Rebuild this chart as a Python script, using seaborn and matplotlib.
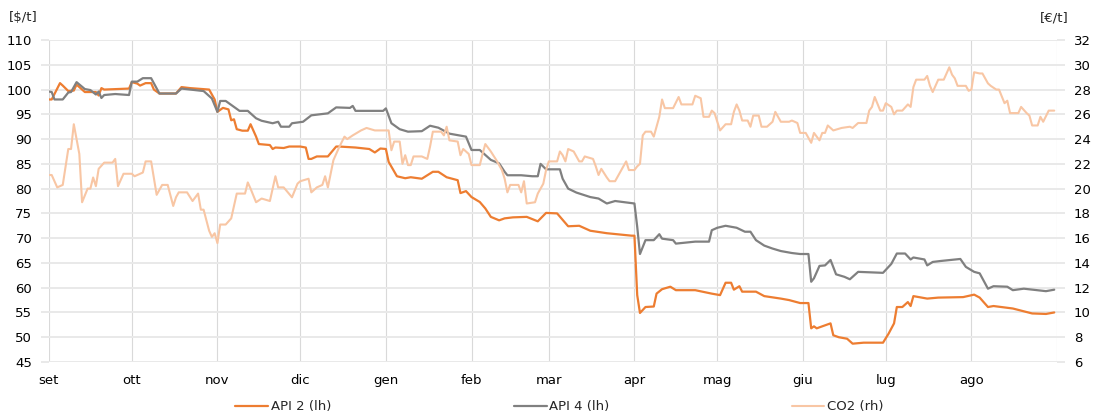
import matplotlib

matplotlib.use("Agg")

import matplotlib.pyplot as plt
import pandas as pd
import seaborn as sns

# ------------------------------------------------------------------
# DATA (day offsets from 1 Sep 2018)
# ------------------------------------------------------------------

start_date = "2018-09-01"
month_labels = ["set", "ott", "nov", "dic", "gen", "feb",
                "mar", "apr", "mag", "giu", "lug", "ago"]

api2_days = [0, 1, 4, 5, 7, 9, 10, 11, 13, 17, 18, 19, 20, 29, 30, 32, 33, 35,
             37, 38, 40, 46, 48, 51, 56, 58, 60, 61, 63, 65, 66, 67, 68, 70,
             72, 73, 75, 76, 80, 81, 82, 85, 87, 91, 93, 94, 95, 97, 101, 104,
             105, 111, 116, 118, 120, 122, 123, 126, 129, 131, 135, 139, 141,
             144, 148, 149, 151, 153, 156, 158, 160, 163, 165, 168, 173, 177,
             180, 184, 188, 192, 196, 202, 211, 212, 213, 214, 216, 219, 220,
             222, 225, 227, 234, 240, 243, 245, 247, 248, 250, 251, 256, 259,
             265, 268, 272, 275, 276, 277, 278, 280, 283, 284, 286, 289, 291,
             295, 302, 304, 306, 307, 309, 311, 312, 313, 318, 322, 331, 335,
             337, 340, 342, 349, 356, 361, 364]
api2_values = [98, 98, 101.3, 100.8, 99.7, 99.8, 101, 100.5, 99.5, 99.5, 98.8,
               100.3, 100, 100.2, 101.5, 101.2, 100.8, 101.3, 101.3, 100, 99.2,
               99.2, 100.5, 100.3, 100.1, 100, 98, 95.5, 96.3, 96, 93.8, 94, 92,
               91.7, 91.7, 93, 90.5, 89, 88.8, 88, 88.3, 88.2, 88.5, 88.5, 88.3,
               86, 86, 86.5, 86.5, 88.5, 88.5, 88.3, 88, 87.3, 88.1, 88, 85.4,
               82.5, 82.1, 82.3, 82, 83.4, 83.4, 82.3, 81.7, 79.1, 79.5, 78.3,
               77.3, 76, 74.3, 73.6, 74, 74.2, 74.3, 73.4, 75.1, 75, 72.4, 72.5,
               71.5, 71, 70.5, 70.5, 58.5, 54.9, 56.1, 56.2, 58.8, 59.7, 60.2,
               59.5, 59.5, 58.8, 58.5, 61, 61, 59.6, 60.3, 59.2, 59.2, 58.3,
               57.8, 57.5, 56.9, 56.9, 51.8, 52.2, 51.8, 52.2, 52.8, 50.4, 50,
               49.7, 48.7, 48.9, 48.9, 50.7, 52.8, 56.1, 56.1, 57.1, 56.3, 58.3,
               57.8, 58, 58.1, 58.6, 58, 56.1, 56.3, 55.8, 54.8, 54.7, 55]

api4_days = [0, 1, 2, 5, 7, 8, 10, 13, 15, 17, 18, 19, 20, 24, 29, 30, 32, 34,
             37, 40, 46, 48, 56, 59, 61, 62, 64, 67, 69, 72, 75, 77, 81, 83, 84,
             87, 88, 92, 95, 101, 104, 109, 110, 111, 121, 122, 124, 127, 130,
             135, 138, 141, 145, 151, 153, 156, 158, 160, 163, 165, 166, 171,
             175, 177, 178, 180, 185, 186, 188, 191, 196, 199, 202, 205, 212,
             213, 214, 216, 219, 221, 222, 226, 227, 234, 239, 240, 242, 245,
             249, 252, 254, 256, 259, 262, 265, 269, 272, 275, 276, 277, 279,
             281, 283, 285, 288, 290, 293, 302, 305, 307, 310, 312, 313, 317,
             318, 320, 323, 330, 332, 335, 337, 340, 342, 347, 349, 353, 361,
             364]
api4_values = [99.6, 99.5, 98, 98, 99.4, 99.5, 101.5, 100.1, 99.9, 99, 99.6,
               98.3, 98.9, 99.1, 98.9, 101.6, 101.6, 102.3, 102.3, 99.2, 99.2,
               100.2, 99.7, 98.2, 95.5, 97.7, 97.7, 96.5, 95.7, 95.7, 94.2, 93.7,
               93.2, 93.5, 92.5, 92.5, 93.2, 93.5, 94.8, 95.2, 96.4, 96.3, 96.7,
               95.7, 95.7, 96.2, 93.2, 92, 91.5, 91.6, 92.7, 92.3, 91.1, 90.5,
               87.8, 87.8, 86.8, 85.8, 85.1, 83.4, 82.7, 82.7, 82.5, 82.5, 85,
               83.9, 83.9, 82, 80, 79.2, 78.3, 78, 77, 77.5, 77, 72.3, 66.8,
               69.6, 69.6, 70.8, 69.9, 69.6, 68.9, 69.3, 69.3, 71.6, 72.1, 72.5,
               72.1, 71.3, 71.3, 69.6, 68.5, 67.9, 67.4, 67, 66.8, 66.8, 61.2,
               61.9, 64.4, 64.5, 65.6, 62.7, 62.2, 61.7, 63.2, 63, 64.8, 66.9,
               66.9, 65.7, 66.1, 65.7, 64.5, 65.2, 65.4, 65.8, 64.2, 63.2, 62.9,
               59.8, 60.3, 60.2, 59.5, 59.8, 59.3, 59.6]

co2_days = [0, 1, 3, 5, 7, 8, 9, 11, 12, 14, 15, 16, 17, 18, 20, 23, 24, 25,
            27, 30, 31, 34, 35, 37, 39, 41, 43, 45, 46, 47, 50, 52, 54, 55, 56,
            58, 59, 60, 61, 62, 64, 66, 68, 71, 72, 73, 75, 77, 80, 82, 83, 85,
            88, 90, 91, 94, 95, 97, 99, 100, 101, 103, 105, 107, 108, 110, 113,
            115, 118, 123, 124, 125, 127, 128, 129, 130, 131, 132, 135, 137,
            138, 139, 142, 143, 144, 145, 148, 149, 150, 152, 153, 156, 157,
            158, 160, 162, 164, 165, 166, 167, 170, 171, 172, 173, 176, 177,
            179, 180, 181, 184, 185, 186, 187, 188, 190, 192, 193, 194, 197,
            198, 199, 200, 202, 203, 205, 206, 209, 210, 212, 213, 214, 215,
            216, 218, 219, 221, 222, 223, 226, 228, 229, 233, 234, 236, 237,
            239, 240, 241, 243, 245, 247, 248, 249, 250, 251, 253, 254, 255,
            257, 258, 260, 262, 263, 265, 268, 269, 271, 272, 274, 276, 277,
            279, 280, 281, 282, 284, 287, 290, 291, 293, 296, 297, 298, 299,
            301, 302, 303, 305, 306, 307, 309, 311, 312, 313, 314, 317, 318,
            319, 320, 322, 324, 325, 326, 327, 328, 329, 332, 333, 334, 335,
            337, 338, 340, 341, 343, 344, 346, 347, 348, 351, 352, 354, 355,
            356, 358, 359, 360, 362, 364]
co2_values = [21.1, 21.1, 20.1, 20.3, 23.2, 23.2, 25.2, 22.8, 18.9, 20, 20,
              20.9, 20.2, 21.6, 22.1, 22.1, 22.4, 20.2, 21.2, 21.2, 21, 21.3,
              22.2, 22.2, 19.5, 20.3, 20.3, 18.6, 19.3, 19.7, 19.7, 19, 19.6,
              18.3, 18.3, 16.6, 16.1, 16.4, 15.6, 17.1, 17.1, 17.6, 19.6, 19.6,
              20.5, 20, 18.9, 19.2, 19, 21, 20.1, 20.1, 19.3, 20.4, 20.6, 20.8,
              19.7, 20.1, 20.3, 21, 20.1, 22.3, 23.3, 24.2, 24, 24.3, 24.7,
              24.9, 24.7, 24.7, 23.1, 23.8, 23.8, 22, 22.7, 21.9, 21.9, 22.6,
              22.6, 22.4, 23.4, 24.6, 24.6, 24.3, 25, 23.9, 23.8, 22.7, 23.2,
              22.8, 21.9, 21.9, 22.8, 23.6, 23, 22.3, 21.5, 20.8, 19.7, 20.3,
              20.3, 19.7, 20.6, 18.8, 18.9, 19.6, 20.4, 21.5, 22.2, 22.2, 23,
              22.7, 22.2, 23.2, 23, 22.2, 22.2, 22.6, 22.4, 21.8, 21.1, 21.6,
              20.9, 20.6, 20.6, 21, 22.2, 21.5, 21.5, 21.8, 22, 24.3, 24.6,
              24.6, 24.2, 25.8, 27.2, 26.5, 26.5, 27.4, 26.8, 26.8, 27.5, 27.3,
              25.8, 25.8, 26.3, 26.1, 24.7, 25.2, 25.2, 26.2, 26.8, 26.3, 25.5,
              25.5, 25, 25.9, 25.9, 25, 25, 25.4, 26.2, 25.4, 25.4, 25.5, 25.3,
              24.5, 24.5, 23.7, 24.5, 23.9, 24.5, 24.5, 25.1, 24.7, 24.9, 25,
              24.9, 25.3, 25.3, 26.3, 26.6, 27.4, 26.3, 26.3, 26.9, 26.6, 26,
              26.3, 26.3, 26.8, 26.6, 28.2, 28.8, 28.8, 29.1, 28.3, 27.8, 28.8,
              28.8, 29.3, 29.8, 29.2, 28.9, 28.3, 28.3, 27.9, 28, 29.4, 29.3,
              29.3, 28.5, 28.3, 28, 28, 26.9, 27.1, 26.1, 26.1, 26.6, 26.1, 25.9,
              25.1, 25.1, 25.8, 25.4, 26.3, 26.3]


def to_frame(days, values):
    dates = pd.Timestamp(start_date) + pd.to_timedelta(days, unit="D")
    return pd.DataFrame({"date": dates, "value": values})


api2 = to_frame(api2_days, api2_values)
api4 = to_frame(api4_days, api4_values)
co2 = to_frame(co2_days, co2_values)

# ------------------------------------------------------------------
# PLOT
# ------------------------------------------------------------------

sns.set_theme(style="white")
plt.rcParams["font.family"] = ["DejaVu Sans"]

fs = 9.5

fig = plt.figure(figsize=(10.95, 4.17), dpi=100)
ax = fig.add_axes([0.0447, 0.1319, 0.9206, 0.7721])
ax2 = ax.twinx()

c_api2 = "#ED7D31"
c_api4 = "#808080"
c_co2 = "#F8C6A4"

sns.lineplot(data=api2, x="date", y="value", ax=ax, color=c_api2,
             linewidth=1.6, label="API 2 (lh)", legend=False)
sns.lineplot(data=api4, x="date", y="value", ax=ax, color=c_api4,
             linewidth=1.6, label="API 4 (lh)", legend=False)
sns.lineplot(data=co2, x="date", y="value", ax=ax2, color=c_co2,
             linewidth=1.5, label="CO2 (rh)", legend=False)

month_starts = pd.date_range(start_date, periods=13, freq="MS")
ax.set_xlim(month_starts[0], month_starts[-1])
ax.set_xticks(month_starts)
ax.set_xticklabels(month_labels + [""])

ax.set_ylim(45, 110)
ax.set_yticks(range(45, 111, 5))
ax2.set_ylim(6, 32)
ax2.set_yticks(range(6, 33, 2))

ax.set_xlabel("")
ax.set_ylabel("")
ax2.set_ylabel("")

ax.grid(axis="x", color="#d9d9d9", linewidth=0.8)
ax.grid(axis="y", color="#e9e9e9", linewidth=1.4)
ax.set_axisbelow(True)
ax2.grid(False)

for a in (ax, ax2):
    for s in a.spines.values():
        s.set_visible(False)

ax.tick_params(axis="x", length=4, color="#d9d9d9", labelsize=fs,
               pad=5, labelcolor="#000000")
ax.tick_params(axis="y", length=6, color="#e9e9e9", width=1.4,
               labelsize=fs, pad=6, labelcolor="#000000")
ax2.tick_params(axis="y", length=6, color="#e9e9e9", width=1.4,
                labelsize=fs, pad=6, labelcolor="#000000")

fig.text(0.008, 0.957, "[$/t]", fontsize=fs, ha="left", va="center")
fig.text(0.950, 0.957, "[€/t]", fontsize=fs, ha="left", va="center")

handles = ax.get_lines()[:2] + ax2.get_lines()[:1]
fig.legend(handles, ["API 2 (lh)", "API 4 (lh)", "CO2 (rh)"],
           loc="lower center", bbox_to_anchor=(0.511, -0.02), ncol=3,
           frameon=False, fontsize=fs, handlelength=2.5,
           handletextpad=0.2, columnspacing=13.8)

fig.savefig("out.png", dpi=100)
plt.close(fig)
